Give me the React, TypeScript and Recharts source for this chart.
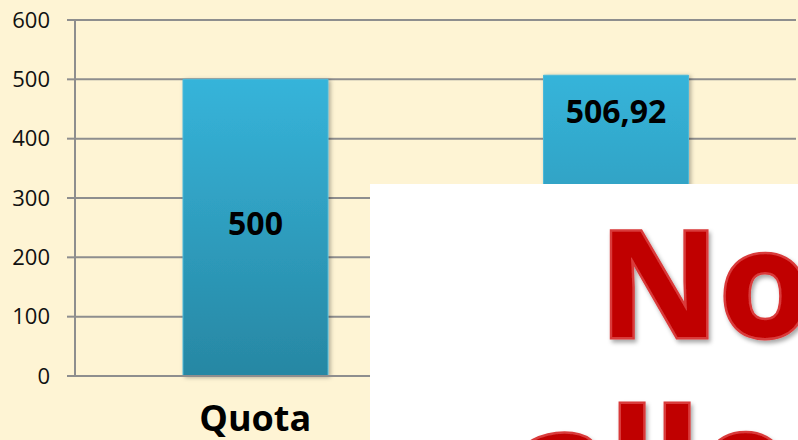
import { BarChart, Bar, XAxis, YAxis, CartesianGrid, LabelList } from "recharts";

const categories = ["Quota", "Allocato"];
const values = [500, 506.92];
const yTicks = [0, 100, 200, 300, 400, 500, 600];

const data = categories.map((name, i) => ({ name, value: values[i] }));

const FONT = "'Open Sans', sans-serif";
const GRID = "#8e8e8e";

const formatValue = (v: number) => (Number.isInteger(v) ? String(v) : v.toFixed(2).replace(".", ","));

const renderValueLabel = (props: any) => {
    const { x, y, width, height, value, index } = props;
    const cx = x + width / 2;
    // first bar has its label centred, second one sits near the top
    const baseline = index === 0 ? y + height / 2 + 7 : y + 48;
    return (
        <text
            x={cx}
            y={baseline}
            textAnchor="middle"
            fill="#000"
            style={{ fontFamily: FONT, fontSize: 32, fontWeight: 700 }}
        >
            {formatValue(value)}
        </text>
    );
};

export default function App() {
    return (
        <div
            style={{
                position: "absolute",
                left: 0,
                top: 0,
                width: 798,
                height: 440,
                overflow: "hidden",
                background: "#fef4d4",
                fontFamily: FONT,
            }}
        >
            <BarChart
                width={798}
                height={440}
                data={data}
                margin={{ top: 20, right: 2, left: 0, bottom: 0 }}
            >
                <defs>
                    <linearGradient id="barGrad" x1="0" y1="0" x2="0" y2="1">
                        <stop offset="0%" stopColor="#36b4da" />
                        <stop offset="100%" stopColor="#2787a3" />
                    </linearGradient>
                    <filter id="barShadow" x="-10%" y="-10%" width="130%" height="130%">
                        <feDropShadow dx="2" dy="1" stdDeviation="2" floodColor="#000" floodOpacity="0.3" />
                    </filter>
                </defs>
                <CartesianGrid vertical={false} stroke={GRID} strokeWidth={2} />
                <XAxis
                    dataKey="name"
                    height={64}
                    axisLine={{ stroke: GRID, strokeWidth: 2 }}
                    tickLine={false}
                    tickSize={0}
                    tickMargin={29}
                    tick={{ fill: "#000", fontSize: 36, fontWeight: 700, fontFamily: FONT }}
                />
                <YAxis
                    width={75}
                    domain={[0, 600]}
                    ticks={yTicks}
                    axisLine={{ stroke: GRID, strokeWidth: 2 }}
                    tickLine={{ stroke: GRID, strokeWidth: 2 }}
                    tickSize={8}
                    tickMargin={17}
                    tick={{ fill: "#111", fontSize: 22, fontFamily: FONT }}
                />
                <Bar
                    dataKey="value"
                    barSize={145}
                    fill="url(#barGrad)"
                    stroke="#4cb9d9"
                    strokeWidth={1}
                    filter="url(#barShadow)"
                    isAnimationActive={false}
                >
                    <LabelList dataKey="value" content={renderValueLabel} />
                </Bar>
            </BarChart>

            <div
                style={{
                    position: "absolute",
                    left: 370,
                    top: 184,
                    right: 0,
                    bottom: 0,
                    background: "#ffffff",
                    overflow: "hidden",
                }}
            >
                <svg width={428} height={256} style={{ display: "block" }}>
                    <defs>
                        <filter id="textShadow" x="-10%" y="-10%" width="130%" height="130%">
                            <feDropShadow dx="2" dy="3" stdDeviation="2" floodColor="#000" floodOpacity="0.35" />
                        </filter>
                    </defs>
                    <g
                        fill="#c00000"
                        stroke="#d93a3a"
                        strokeWidth={5}
                        style={{ paintOrder: "stroke", fontFamily: FONT, fontWeight: 700, fontSize: 148 }}
                        filter="url(#textShadow)"
                    >
                        <text x={229} y={153}>Non</text>
                        <text x={150} y={332}>allocato</text>
                    </g>
                </svg>
            </div>
        </div>
    );
}
